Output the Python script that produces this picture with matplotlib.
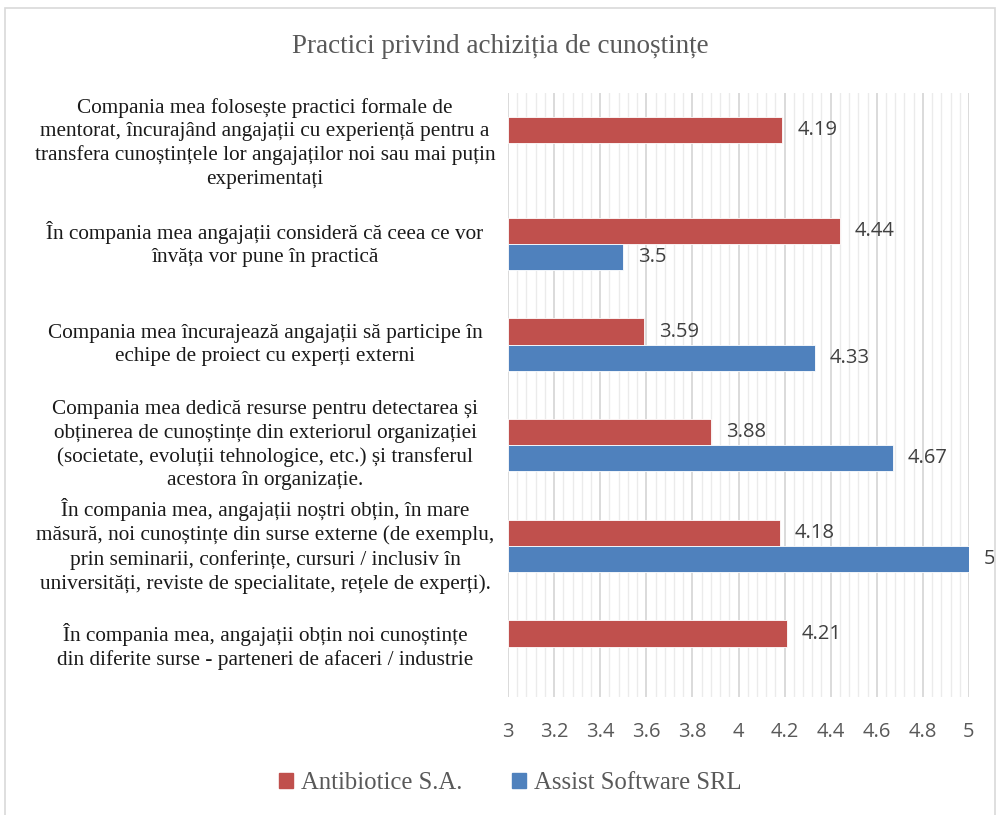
import numpy as np
import matplotlib
matplotlib.use("Agg")
import matplotlib.pyplot as plt
from matplotlib.ticker import MultipleLocator
from matplotlib.patches import Rectangle

categories = [
    "Compania mea folosește practici formale de\nmentorat, încurajând angajații cu experiență pentru a\ntransfera cunoștințele lor angajaților noi sau mai puțin\nexperimentați",
    "În compania mea angajații consideră că ceea ce vor\nînvăța vor pune în practică",
    "Compania mea încurajează angajații să participe în\nechipe de proiect cu experți externi",
    "Compania mea dedică resurse pentru detectarea și\nobținerea de cunoștințe din exteriorul organizației\n(societate, evoluții tehnologice, etc.) și transferul\nacestora în organizație.",
    "În compania mea, angajații noștri obțin, în mare\nmăsură, noi cunoștințe din surse externe (de exemplu,\nprin seminarii, conferințe, cursuri / inclusiv în\nuniversități, reviste de specialitate, rețele de experți).",
    "În compania mea, angajații obțin noi cunoștințe\ndin diferite surse - parteneri de afaceri / industrie",
]
antibiotice = [4.19, 4.44, 3.59, 3.88, 4.18, 4.21]
assist = [None, 3.5, 4.33, 4.67, 5, None]
series_names = ["Antibiotice S.A.", "Assist Software SRL"]
x_ticks = [3, 3.2, 3.4, 3.6, 3.8, 4, 4.2, 4.4, 4.6, 4.8, 5]

red = "#C0504D"
blue = "#4F81BD"
serif = "Liberation Serif"
sans = "Open Sans"

fig = plt.figure(figsize=(10, 8.15), dpi=100)
ax = fig.add_axes([0.508, 0.1448, 0.461, 0.7411])

y = np.arange(len(categories))
h = 0.26
for vals, off, col in [(antibiotice, -0.13, red), (assist, 0.13, blue)]:
    for yi, v in zip(y, vals):
        if v is None:
            continue
        ax.barh(yi + off, v - 3, left=3, height=h, color=col,
                edgecolor="white", linewidth=0.6, zorder=3)
        ax.text(v + 0.065, yi + off, f"{v:g}", va="center", ha="left",
                fontsize=14.5, color="#404040", family=sans, clip_on=False)

ax.set_xlim(3, 5)
ax.set_ylim(len(categories) - 0.5, -0.5)
ax.set_xticks(x_ticks)
ax.set_xticklabels([f"{t:g}" for t in x_ticks], family=sans, fontsize=14.5,
                   color="#595959")
ax.xaxis.set_minor_locator(MultipleLocator(0.04))
ax.grid(axis="x", which="major", color="#D4D4D4", linewidth=1.2, zorder=0)
ax.grid(axis="x", which="minor", color="#EBEBEB", linewidth=1.0, zorder=0)
ax.tick_params(axis="x", which="both", length=0, pad=18)
ax.set_yticks(y)
ax.set_yticklabels([])
ax.tick_params(axis="y", length=0)
for s in ax.spines.values():
    s.set_visible(False)

# category labels, centred in the left column
for yi, txt in zip(y, categories):
    ax.text(-0.527, yi, txt, transform=ax.get_yaxis_transform(),
            ha="center", va="center", fontsize=15.3, family=serif,
            color="#1a1a1a", linespacing=1.3)

fig.text(0.5, 0.943, "Practici privind achiziția de cunoștințe",
         ha="center", va="center", fontsize=19.5, family=serif, color="#595959")

handles = [Rectangle((0, 0), 1, 1, color=red), Rectangle((0, 0), 1, 1, color=blue)]
fig.legend(handles, series_names, loc="center", bbox_to_anchor=(0.51, 0.039),
           ncol=2, frameon=False, prop={"family": serif, "size": 17.8},
           labelcolor="#595959", handlelength=0.6, handleheight=0.6,
           handletextpad=0.3, columnspacing=2.0)

fig.patches.append(Rectangle((0.005, -0.01), 0.99, 1.0, transform=fig.transFigure,
                             fill=False, edgecolor="#D9D9D9", linewidth=1.2))

fig.savefig("out.png", dpi=100)
